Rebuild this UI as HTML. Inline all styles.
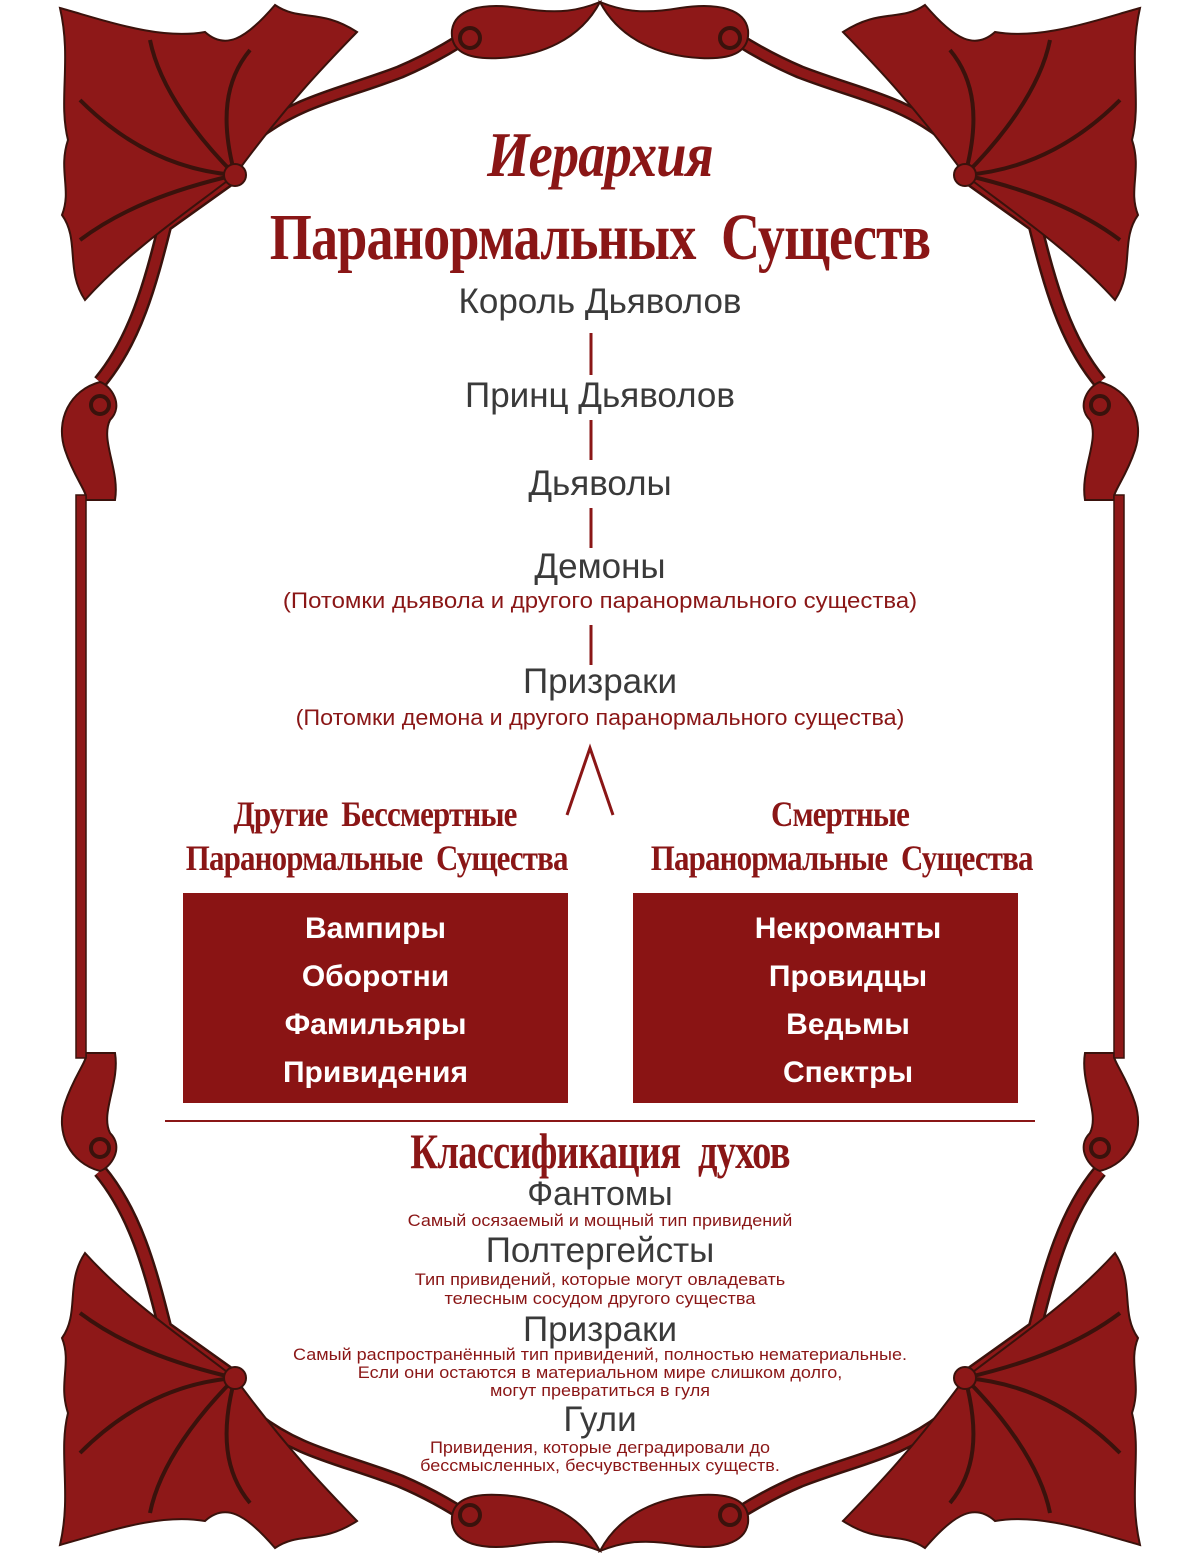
<!DOCTYPE html>
<html><head><meta charset="utf-8">
<style>
html,body{margin:0;padding:0}
body{width:1200px;height:1553px;position:relative;background:#fff;overflow:hidden;font-family:"Liberation Sans",sans-serif}
.t{position:absolute;left:0;width:1200px;text-align:center;white-space:nowrap}
.g{color:#3a3a3a}
.r{color:#8a1616}
.h{font-family:"Liberation Serif",serif;font-weight:bold;color:#8a1616;letter-spacing:-1px}
.box{position:absolute;background:#8a1414;color:#fff;font-weight:bold;font-size:30px;text-align:center;line-height:48px;padding-top:12px;box-sizing:border-box}
</style></head><body>
<svg width="1200" height="1553" style="position:absolute;left:0;top:0">
<defs>
<g id="corner">
  <path d="M235,175 L165,225 C150,285 135,340 100,382" fill="none" stroke="#3a120c" stroke-width="15"/>
  <path d="M235,175 L165,225 C150,285 135,340 100,382" fill="none" stroke="#8e1818" stroke-width="10"/>
  <path d="M255,135 C300,100 340,95 400,72 C440,55 470,35 490,20" fill="none" stroke="#3a120c" stroke-width="14"/>
  <path d="M255,135 C300,100 340,95 400,72 C440,55 470,35 490,20" fill="none" stroke="#8e1818" stroke-width="9"/>
  <path d="M235,175 C190,210 130,250 85,300 C65,270 80,240 62,215 C72,190 58,170 68,140 C58,100 72,60 60,8 C110,22 160,40 205,32 C225,50 245,40 275,5 C300,22 320,8 357,32 C330,60 290,100 235,175 Z" fill="#8e1818" stroke="#3a120c" stroke-width="2"/>
  <path d="M235,175 C200,140 160,90 150,40 M235,175 C220,120 225,80 250,50 M235,175 C170,170 120,140 80,100 M235,175 C170,190 120,210 80,240" stroke="#3a120c" stroke-width="4" fill="none"/>
  <circle cx="235" cy="175" r="11" fill="#8e1818" stroke="#3a120c" stroke-width="2"/>
  <path d="M100,382 C70,390 55,420 65,450 C75,480 90,495 85,500 L115,500 C120,470 100,440 110,420 C125,405 110,385 100,382 Z" fill="#8e1818" stroke="#3a120c" stroke-width="2"/>
  <circle cx="100" cy="405" r="9" fill="none" stroke="#3a120c" stroke-width="4"/>
</g>
<g id="wing">
  <path d="M600,2 C580,10 560,15 520,8 C480,2 455,10 452,30 C450,50 465,60 500,58 C540,56 580,40 600,2 Z" fill="#8e1818" stroke="#3a120c" stroke-width="2"/>
  <circle cx="470" cy="38" r="10" fill="none" stroke="#3a120c" stroke-width="4"/>
</g>
</defs>
<use href="#corner"/>
<use href="#corner" transform="translate(1200,0) scale(-1,1)"/>
<use href="#corner" transform="translate(0,1553) scale(1,-1)"/>
<use href="#corner" transform="translate(1200,1553) scale(-1,-1)"/>
<use href="#wing"/>
<use href="#wing" transform="translate(1200,0) scale(-1,1)"/>
<use href="#wing" transform="translate(0,1553) scale(1,-1)"/>
<use href="#wing" transform="translate(1200,1553) scale(-1,-1)"/>
<rect x="76" y="495" width="10" height="563" fill="#8e1818" stroke="#3a120c" stroke-width="1.5"/>
<rect x="1114" y="495" width="10" height="563" fill="#8e1818" stroke="#3a120c" stroke-width="1.5"/>
<g stroke="#8a1616" stroke-width="3">
<line x1="591" y1="333" x2="591" y2="375"/>
<line x1="591" y1="420" x2="591" y2="460"/>
<line x1="591" y1="508" x2="591" y2="548"/>
<line x1="591" y1="625" x2="591" y2="665"/>
<polyline points="567,815 590,748 613,815" fill="none"/>
<line x1="165" y1="1121" x2="1035" y2="1121" stroke-width="2"/>
</g>
</svg>

<div class="t h" style="top:118px;font-size:64px;font-style:italic;transform:scaleX(0.85)">Иерархия</div>
<div class="t h" style="top:200px;font-size:66px;transform:scaleX(0.82)">Паранормальных&nbsp; Существ</div>

<div class="t g" style="top:282px;font-size:35px">Король Дьяволов</div>
<div class="t g" style="top:376px;font-size:35px">Принц Дьяволов</div>
<div class="t g" style="top:464px;font-size:35px">Дьяволы</div>
<div class="t g" style="top:547px;font-size:35px">Демоны</div>
<div class="t r" style="top:588px;font-size:22px;transform:scaleX(1.09)">(Потомки дьявола и другого паранормального существа)</div>
<div class="t g" style="top:662px;font-size:35px">Призраки</div>
<div class="t r" style="top:705px;font-size:22px;transform:scaleX(1.06)">(Потомки демона и другого паранормального существа)</div>

<div class="t h" style="left:155px;width:440px;top:792px;font-size:36px;line-height:44px;transform:scaleX(0.86)">Другие&nbsp; Бессмертные<br>Паранормальные&nbsp; Существа</div>
<div class="t h" style="left:620px;width:440px;top:792px;font-size:36px;line-height:44px;transform:scaleX(0.86)">Смертные<br>Паранормальные&nbsp; Существа</div>

<div class="box" style="left:183px;top:893px;width:385px;height:210px">Вампиры<br>Оборотни<br>Фамильяры<br>Привидения</div>
<div class="box" style="left:633px;top:893px;width:385px;height:210px;padding-left:45px">Некроманты<br>Провидцы<br>Ведьмы<br>Спектры</div>

<div class="t h" style="top:1122px;font-size:50px;transform:scaleX(0.77)">Классификация&nbsp; духов</div>
<div class="t g" style="top:1175px;font-size:34px">Фантомы</div>
<div class="t r" style="top:1211px;font-size:17px;transform:scaleX(1.06)">Самый осязаемый и мощный тип привидений</div>
<div class="t g" style="top:1231px;font-size:35px">Полтергейсты</div>
<div class="t r" style="top:1270px;font-size:17px;line-height:19px;transform:scaleX(1.07)">Тип привидений, которые могут овладевать<br>телесным сосудом другого существа</div>
<div class="t g" style="top:1310px;font-size:35px">Призраки</div>
<div class="t r" style="top:1346px;font-size:17px;line-height:18px;transform:scaleX(1.06)">Самый распространённый тип привидений, полностью нематериальные.<br>Если они остаются в материальном мире слишком долго,<br>могут превратиться в гуля</div>
<div class="t g" style="top:1400px;font-size:35px">Гули</div>
<div class="t r" style="top:1439px;font-size:17px;line-height:18px;transform:scaleX(1.06)">Привидения, которые деградировали до<br>бессмысленных, бесчувственных существ.</div>
</body></html>
